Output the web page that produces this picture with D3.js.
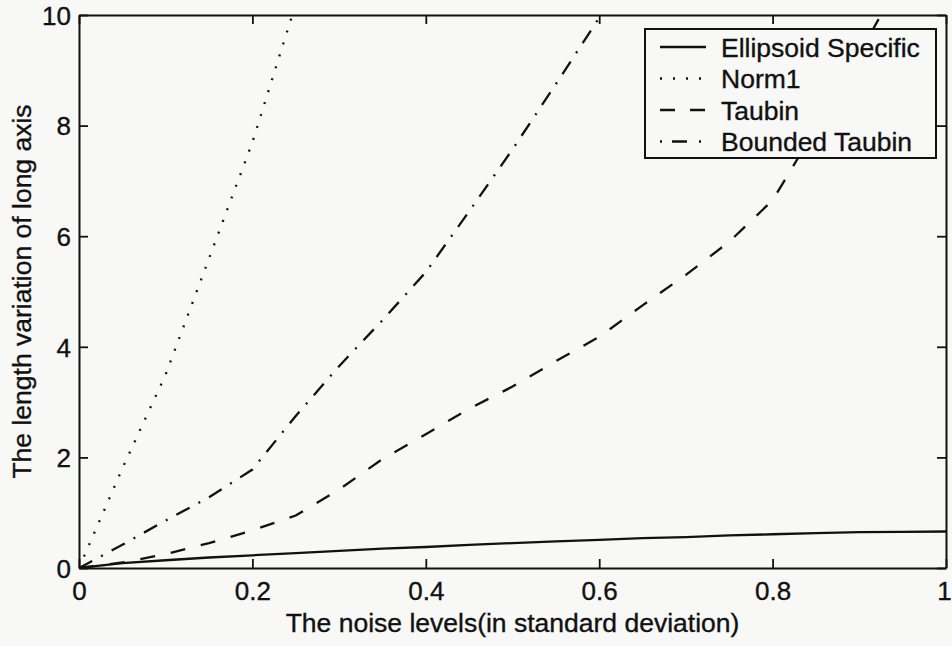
<!DOCTYPE html>
<html>
<head>
<meta charset="utf-8">
<script src="https://cdn.jsdelivr.net/npm/d3@7/dist/d3.min.js"></script>
<style>
  html, body { margin: 0; padding: 0; background: #f8f8f7; }
  svg { display: block; }
  text { font-family: "Liberation Sans", Arial, Helvetica, sans-serif; fill: #111; stroke: #111; stroke-width: 0.35px; }
</style>
</head>
<body>
<svg id="chart" width="952" height="646"></svg>
<script>
// Noise levels (standard deviation) at which each estimator was evaluated
const noiseLevels = [0, 0.05, 0.1, 0.15, 0.2, 0.25, 0.3, 0.35, 0.4, 0.45, 0.5,
                     0.55, 0.6, 0.65, 0.7, 0.75, 0.8, 0.85, 0.9, 0.95, 1.0];

// Length variation of the long axis per estimator (null = not plotted, off scale)
const ellipsoidSpecific = [0, 0.09, 0.14, 0.19, 0.23, 0.27, 0.31, 0.35, 0.38, 0.42, 0.45,
                           0.48, 0.51, 0.54, 0.56, 0.59, 0.61, 0.63, 0.65, 0.655, 0.66];
const norm1 = [0, 1.8, 3.5, 5.6, 7.7, 10.2, null, null, null, null, null,
               null, null, null, null, null, null, null, null, null, null];
const taubin = [0, 0.1, 0.25, 0.45, 0.68, 0.95, 1.42, 1.97, 2.42, 2.88, 3.28,
                3.74, 4.18, 4.75, 5.3, 5.9, 6.65, 7.95, 9.3, 10.7, null];
const boundedTaubin = [0, 0.42, 0.86, 1.28, 1.78, 2.75, 3.65, 4.48, 5.35, 6.45, 7.57,
                       8.75, 9.95, 11.2, null, null, null, null, null, null, null];

const seriesNames = ["Ellipsoid Specific", "Norm1", "Taubin", "Bounded Taubin"];
const seriesValues = [ellipsoidSpecific, norm1, taubin, boundedTaubin];
const seriesDash = ["none", "2,10.5", "15,16", "15,10,2,10"];
const legendDash = ["none", "2,11", "15,15,15,100", "2,10,15,12,2,100"];

const xTicks = [0, 0.2, 0.4, 0.6, 0.8, 1];
const yTicks = [0, 2, 4, 6, 8, 10];

const svg = d3.select("#chart");
const plotLeft = 79, plotRight = 946, plotTop = 15, plotBottom = 568;

const x = d3.scaleLinear().domain([0, 1]).range([plotLeft, plotRight]);
const y = d3.scaleLinear().domain([0, 10]).range([plotBottom, plotTop]);

svg.append("defs").append("clipPath").attr("id", "plotClip")
  .append("rect").attr("x", plotLeft).attr("y", plotTop)
  .attr("width", plotRight - plotLeft).attr("height", plotBottom - plotTop);

const fmtX = d => d === 0 ? "0" : d === 1 ? "1" : d3.format(".1f")(d);

function styleAxis(g) {
  g.select(".domain").attr("stroke", "#111").attr("stroke-width", 2);
  g.selectAll(".tick line").attr("stroke", "#111").attr("stroke-width", 1.8);
  g.selectAll(".tick text").style("font-size", "26px").attr("fill", "#111");
}

// bottom axis with labels, ticks pointing inward
svg.append("g").attr("transform", `translate(0,${plotBottom})`)
  .call(d3.axisBottom(x).tickValues(xTicks).tickSize(-9).tickSizeOuter(0).tickPadding(14).tickFormat(fmtX))
  .call(styleAxis)
  .call(g => g.selectAll(".tick text").attr("dy", "0.71em"))
  .call(g => g.selectAll(".tick text").filter(d => d === 1).attr("dx", "-2"));

// top axis, ticks only
svg.append("g").attr("transform", `translate(0,${plotTop})`)
  .call(d3.axisTop(x).tickValues(xTicks).tickSize(-9).tickSizeOuter(0).tickFormat(""))
  .call(styleAxis);

// left axis with labels
svg.append("g").attr("transform", `translate(${plotLeft},0)`)
  .call(d3.axisLeft(y).tickValues(yTicks).tickSize(-9).tickSizeOuter(0).tickPadding(8))
  .call(styleAxis)
  .call(g => g.selectAll(".tick text").attr("dy", "0.36em"));

// right axis, ticks only
svg.append("g").attr("transform", `translate(${plotRight},0)`)
  .call(d3.axisRight(y).tickValues(yTicks).tickSize(-9).tickSizeOuter(0).tickFormat(""))
  .call(styleAxis);

// the curves
const line = d3.line()
  .defined(d => d[1] !== null)
  .x(d => x(d[0]))
  .y(d => y(d[1]));

const plot = svg.append("g").attr("clip-path", "url(#plotClip)");
seriesValues.forEach((vals, i) => {
  const pts = noiseLevels.map((n, j) => [n, vals[j]]);
  plot.append("path")
    .datum(pts)
    .attr("d", line)
    .attr("fill", "none")
    .attr("stroke", "#111")
    .attr("stroke-width", 2.3)
    .attr("stroke-dasharray", seriesDash[i]);
});

// axis titles
svg.append("text")
  .attr("x", (plotLeft + plotRight) / 2).attr("y", 632)
  .attr("text-anchor", "middle")
  .style("font-size", "26.5px")
  .text("The noise levels(in standard deviation)");

svg.append("text")
  .attr("transform", `translate(31,${(plotTop + plotBottom) / 2}) rotate(-90)`)
  .attr("text-anchor", "middle")
  .style("font-size", "26.5px")
  .text("The length variation of long axis");

// legend
const lg = svg.append("g");
lg.append("rect")
  .attr("x", 645).attr("y", 29).attr("width", 291).attr("height", 129)
  .attr("fill", "#f8f8f7").attr("stroke", "#111").attr("stroke-width", 2);
seriesNames.forEach((name, i) => {
  const cy = 47 + i * 31.5;
  lg.append("line")
    .attr("x1", 660).attr("x2", 706).attr("y1", cy).attr("y2", cy)
    .attr("stroke", "#111").attr("stroke-width", 2.3)
    .attr("stroke-dasharray", legendDash[i]);
  lg.append("text")
    .attr("x", 721).attr("y", cy).attr("dy", "0.36em")
    .style("font-size", "26.5px")
    .text(name);
});
</script>
</body>
</html>
